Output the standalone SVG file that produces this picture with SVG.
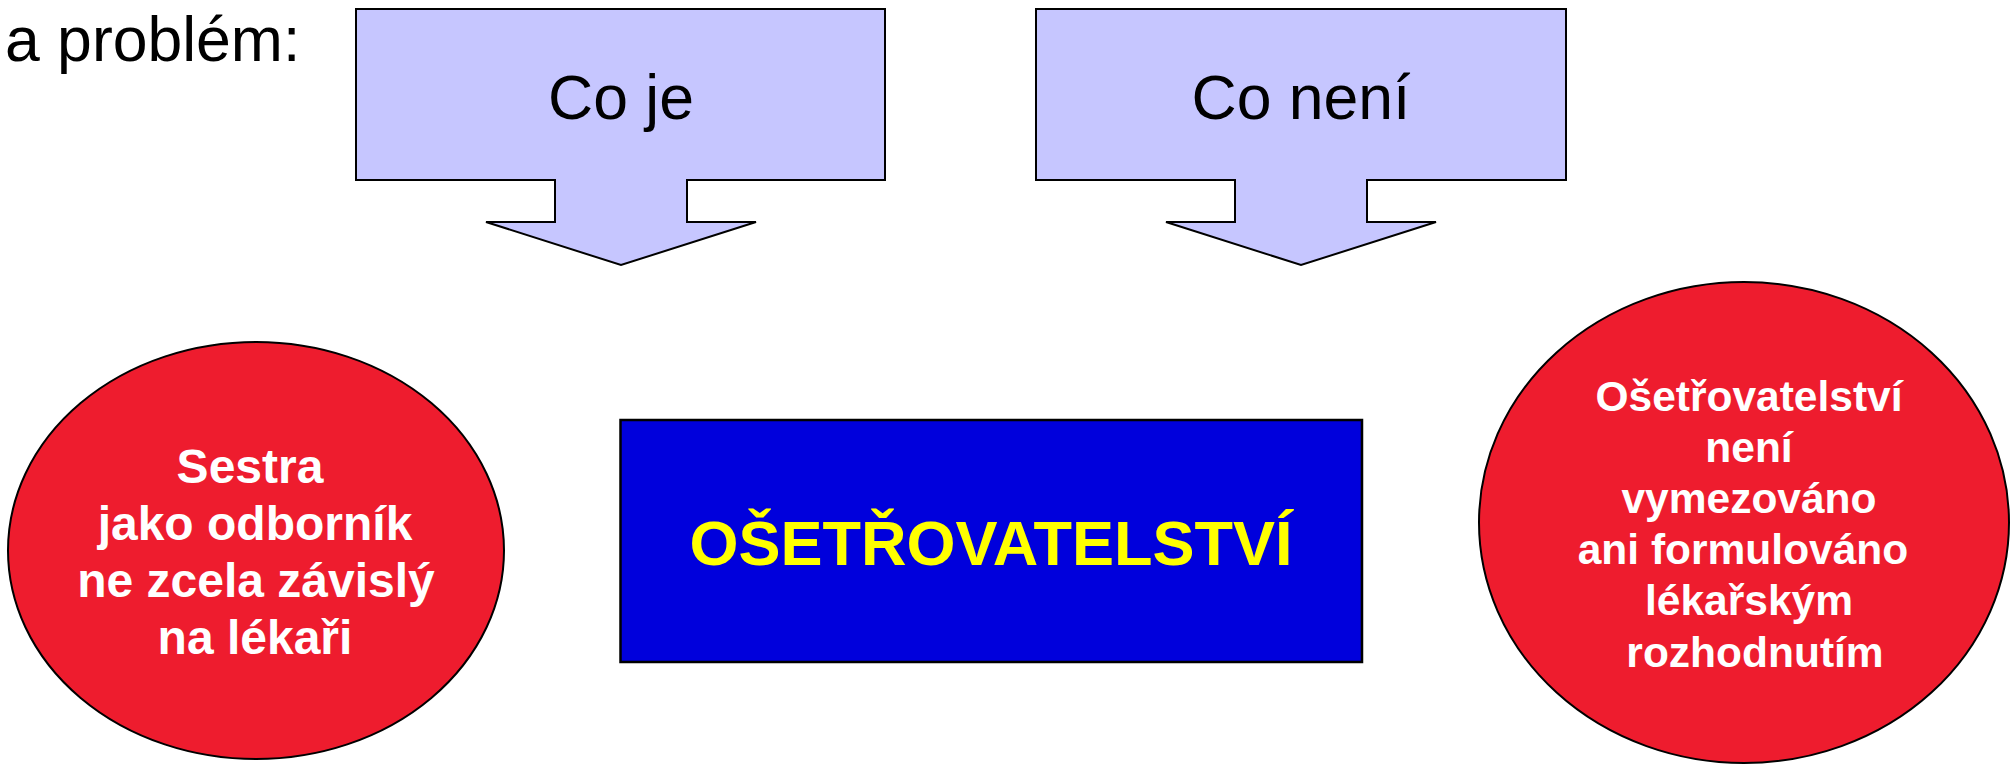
<svg xmlns="http://www.w3.org/2000/svg" width="2010" height="764" viewBox="0 0 2010 764">
<style>
.callout{fill:#C6C6FF;stroke:#000;stroke-width:2}
.ell{fill:#EE1C2E;stroke:#000;stroke-width:2}
.box{fill:#0000DC;stroke:#000;stroke-width:2.5}
.t{font-family:"Liberation Sans",Arial,sans-serif;text-anchor:middle}
.big{font-size:62.5px;fill:#000}
.wl{font-size:48px;font-weight:bold;fill:#fff}
.wr{font-size:42.5px;font-weight:bold;fill:#fff}
.y{font-size:63px;font-weight:bold;fill:#FFFF00}
</style>
<rect width="2010" height="764" fill="#fff"/>
<g id="title">
<text x="5" y="61" font-family="Liberation Sans, Arial, sans-serif" font-size="62.5" fill="#000">a problém:</text>
</g>
<g id="connectors"></g>
<g id="co-je">
<polygon class="callout" points="356,9 885,9 885,180 687,180 687,222 756,222 621,265 486,222 555,222 555,180 356,180"/>
<text class="t big" x="621" y="119">Co je</text>
</g>
<g id="co-neni">
<polygon class="callout" points="1036,9 1566,9 1566,180 1367,180 1367,222 1436,222 1301,265 1166,222 1235,222 1235,180 1036,180"/>
<text class="t big" x="1301" y="119">Co není</text>
</g>
<g id="sestra">
<ellipse class="ell" cx="256" cy="550.5" rx="248" ry="208.5"/>
<text class="t wl" x="250" y="483">Sestra</text>
<text class="t wl" x="255" y="540">jako odborník</text>
<text class="t wl" x="256" y="597">ne zcela závislý</text>
<text class="t wl" x="255" y="654">na lékaři</text>
</g>
<g id="osetrovatelstvi">
<rect class="box" x="620.5" y="420" width="741.5" height="242"/>
<text class="t y" x="991" y="565">OŠETŘOVATELSTVÍ</text>
</g>
<g id="neni">
<ellipse class="ell" cx="1744" cy="522.5" rx="265" ry="240.5"/>
<text class="t wr" x="1749" y="411">Ošetřovatelství</text>
<text class="t wr" x="1749" y="462">není</text>
<text class="t wr" x="1749" y="513">vymezováno</text>
<text class="t wr" x="1743" y="564">ani formulováno</text>
<text class="t wr" x="1749" y="615">lékařským</text>
<text class="t wr" x="1755" y="667">rozhodnutím</text>
</g>
</svg>
